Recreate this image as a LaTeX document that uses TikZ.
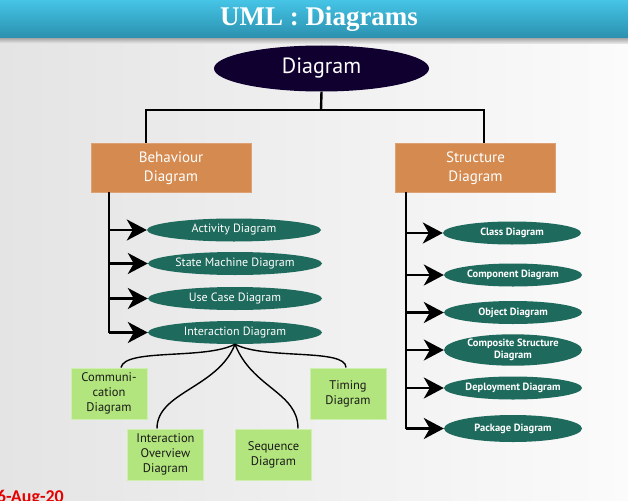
\documentclass[tikz,border=0pt]{standalone}
\usepackage{fontspec}
\setmainfont{PT Sans}
\newfontfamily\titlefont{Liberation Serif}
\newfontfamily\datefont{Carlito}
\usetikzlibrary{shapes.geometric,arrows.meta}
\definecolor{barTop}{HTML}{45C4E6}
\definecolor{barBot}{HTML}{2B90AE}
\definecolor{navyfill}{HTML}{0F0030}
\definecolor{orangebox}{HTML}{D58A50}
\definecolor{tealfill}{HTML}{1E6A5C}
\definecolor{greenbox}{HTML}{B2E57D}
\definecolor{greenedge}{HTML}{CFEFB0}
\definecolor{bgleft}{HTML}{E4E4E4}
\definecolor{bgright}{HTML}{FBFBFB}
\begin{document}
\begin{tikzpicture}[x=1pt,y=-1pt,
  tree/.style={line width=2.4pt,black},
  arr/.style={line width=2.4pt,black,-{Stealth[length=20pt,width=21pt,inset=6pt]}},
  curvy/.style={line width=1.4pt,black},
  orangebox/.style={rectangle,fill=orangebox,draw=orangebox!80!white,line width=0.6pt,minimum width=160pt,minimum height=49pt,inner sep=0pt,text=white,align=center,font=\fontsize{15}{19}\selectfont},
  lell/.style={ellipse,fill=tealfill,minimum width=174pt,minimum height=23pt,inner sep=0pt,text=white,font=\fontsize{12}{14}\selectfont},
  rell/.style={ellipse,fill=tealfill,minimum width=138pt,minimum height=23pt,inner sep=0pt,text=white,align=center,font=\bfseries\fontsize{10.5}{12.5}\selectfont},
  gbox/.style={rectangle,fill=greenbox,draw=greenedge,line width=1pt,minimum width=76pt,minimum height=51pt,inner sep=0pt,text=black!90,align=center,font=\fontsize{12.5}{15}\selectfont}]
\useasboundingbox (0,0) rectangle (628,500);
\clip (0,0) rectangle (628,500);
% background
\shade[left color=bgleft,right color=bgright] (0,0) rectangle (628,500);
\shade[top color=black!35,bottom color=bgleft!50!bgright] (0,38) rectangle (628,44);
\shade[top color=barTop,bottom color=barBot] (0,0) rectangle (628,38);
\node[text=white,font=\titlefont\bfseries\fontsize{27}{30}\selectfont] (title) at (319,19) {UML : Diagrams};

% root
\node[ellipse,fill=navyfill,minimum width=215pt,minimum height=46pt,inner sep=0pt,text=white,font=\fontsize{22}{24}\selectfont] (root) at (321.5,68.5) {Diagram};

% second level
\node[orangebox] (beh) at (171,167.5) {\rule{0pt}{12pt}Behaviour\\Diagram};
\node[orangebox] (str) at (475.5,167.5) {\rule{0pt}{12pt}Structure\\Diagram};

\coordinate (hub) at (321,110);
\draw[tree] (root.south) -- (hub);
\draw[tree] (beh.north -| 146,0) -- (146,110) -- (484,110) -- (str.north -| 484,0);

% left children
\node[lell] (act) at (234,230) {Activity Diagram};
\node[lell] (sm) at (235,263.5) {State Machine Diagram};
\node[lell] (uc) at (235,298.5) {Use Case Diagram};
\node[lell] (inter) at (235,332.5) {Interaction Diagram};

\coordinate (lx) at (109,0);
\draw[tree] (beh.south -| lx) -- (inter.west -| lx);
\foreach \n in {act,sm,uc,inter}
  \draw[arr] (\n.west -| lx) -- (\n.west);

% right children
\node[rell] (cls) at (512,233) {Class Diagram};
\node[rell] (cmp) at (513,275) {Component Diagram};
\node[rell] (obj) at (513,312.5) {Object Diagram};
\node[rell,minimum height=29pt] (cs) at (513,350) {Composite Structure\\Diagram};
\node[rell] (dep) at (513,388) {Deployment Diagram};
\node[rell,minimum height=27pt] (pkg) at (513,428.5) {Package Diagram};

\coordinate (rx) at (406,0);
\draw[tree] (str.south -| rx) -- (pkg.west -| rx);
\foreach \n in {cls,cmp,obj,cs,dep,pkg}
  \draw[arr] (\n.west -| rx) -- (\n.west);

% interaction children
\node[gbox] (comm) at (109,393.5) {Communi-\\cation\\Diagram};
\node[gbox] (iov) at (165.5,454.5) {Interaction\\Overview\\Diagram};
\node[gbox] (seq) at (273.5,454.5) {Sequence\\Diagram};
\node[gbox] (tim) at (348,393.5) {Timing\\Diagram};

\draw[curvy] (inter.south) .. controls (205,360) and (125,348) .. (comm.north -| 121,0);
\draw[curvy] (inter.south) .. controls (218,388) and (157,392) .. (iov.north -| 157,0);
\draw[curvy] (inter.south) .. controls (252,388) and (298,392) .. (seq.north -| 298,0);
\draw[curvy] (inter.south) .. controls (265,360) and (346,348) .. (tim.north -| 346,0);

% date (cut by the picture's edge, as in the reference)
\node[anchor=base east,inner sep=0pt,text=red!90!black,font=\datefont\bfseries\fontsize{18}{20}\selectfont] (date) at (64,502) {16-Aug-20};
\end{tikzpicture}
\end{document}
